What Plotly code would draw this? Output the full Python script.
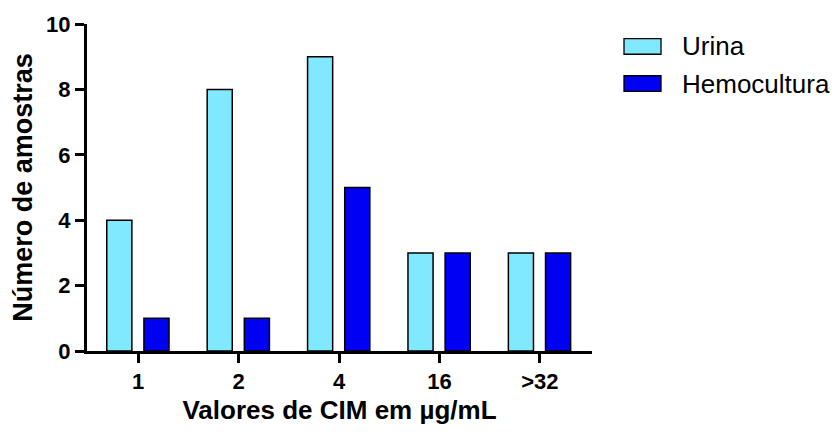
import plotly.graph_objects as go

# MIC values (µg/mL) and number of isolates per source
categories = ["1", "2", "4", "16", ">32"]
urina = [4, 8, 9, 3, 3]
hemocultura = [1, 1, 5, 3, 3]
series_names = ["Urina", "Hemocultura"]
series_colors = ["#80E9FF", "#0000F2"]
y_ticks = [0, 2, 4, 6, 8, 10]

FONT = "Liberation Sans, Arial"
W, H = 834, 433
L, T, R, B = 87, 20, 242, 78
plot_w, plot_h = W - L - R, H - T - B

fig = go.Figure()
for name, vals, color, off in zip(series_names, [urina, hemocultura], series_colors, [-0.313, 0.057]):
    fig.add_trace(go.Bar(
        x=categories, y=vals, name=name,
        marker=dict(color=color, line=dict(color="black", width=1.5)),
        width=0.25, offset=off, showlegend=False,
    ))

# Legend drawn as wide swatches with labels to the right
def px_to_paper(px, py):
    return (px - L) / plot_w, (H - B - py) / plot_h

shapes, annotations = [], []
for i, (name, color) in enumerate(zip(series_names, series_colors)):
    cy = 43 + i * 38
    x0, y_top = px_to_paper(624, cy - 8)
    x1, y_bot = px_to_paper(661, cy + 8)
    shapes.append(dict(type="rect", xref="paper", yref="paper", x0=x0, x1=x1, y0=y_bot, y1=y_top,
                       fillcolor=color, line=dict(color="black", width=1.3)))
    tx, ty = px_to_paper(680, cy)
    annotations.append(dict(xref="paper", yref="paper", x=tx, y=ty, text=name, showarrow=False,
                            xanchor="left", yanchor="middle",
                            font=dict(family=FONT, size=26, color="black")))

fig.update_layout(
    width=W, height=H,
    margin=dict(l=L, r=R, t=T, b=B),
    plot_bgcolor="white", paper_bgcolor="white",
    barmode="group",
    shapes=shapes, annotations=annotations,
    font=dict(family=FONT, color="black"),
    xaxis=dict(
        type="category", range=[-0.51, 4.52],
        showline=True, linecolor="black", linewidth=3,
        ticks="outside", ticklen=9, tickwidth=2.5, tickcolor="black",
        tickfont=dict(size=22, family=FONT, weight="bold"),
        title=dict(text="Valores de CIM em µg/mL", standoff=8,
                   font=dict(size=26, family=FONT, weight="bold")),
        showgrid=False, zeroline=False,
    ),
    yaxis=dict(
        range=[0, 10], tickvals=y_ticks,
        showline=True, linecolor="black", linewidth=3,
        ticks="outside", ticklen=9, tickwidth=2.5, tickcolor="black",
        tickfont=dict(size=22, family=FONT, weight="bold"),
        title=dict(text="Número de amostras", standoff=6,
                   font=dict(size=27, family=FONT, weight="bold")),
        showgrid=False, zeroline=False,
    ),
)

fig.write_html("out.html")
